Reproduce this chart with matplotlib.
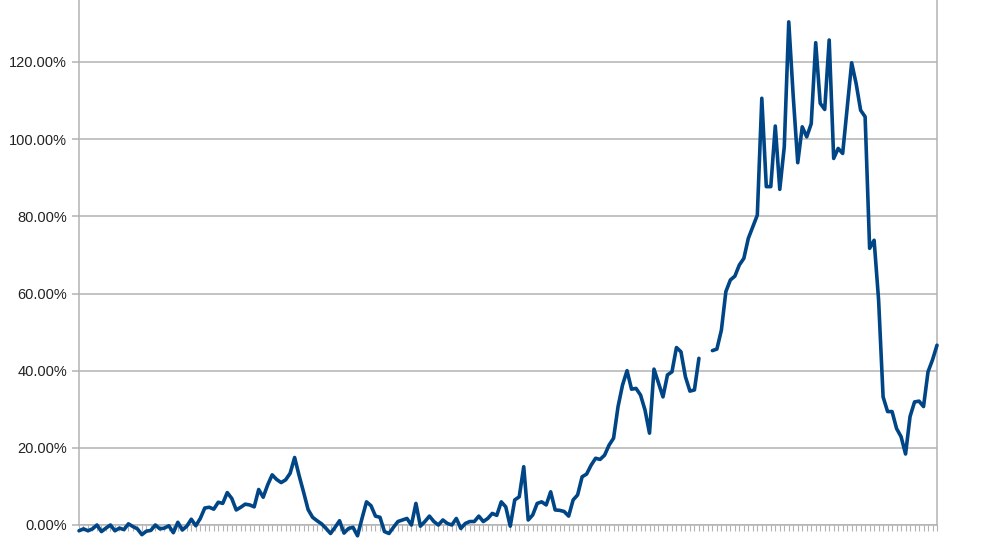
import numpy as np
import matplotlib
matplotlib.use('Agg')
import matplotlib.pyplot as plt
from matplotlib.ticker import FixedLocator, FuncFormatter

# monthly series (%), two missing values leave the gap near the right
pct_a = [-1.5, -1.0, -1.5, -1.0, 0.0, -1.7, -0.8, 0.0, -1.5, -0.8,
         -1.2, 0.3, -0.4, -1.0, -2.5, -1.6, -1.4, 0.0, -1.0, -0.8,
         -0.2, -2.0, 0.7, -1.3, -0.3, 1.5, -0.2, 1.7, 4.4, 4.6,
         4.1, 5.9, 5.6, 8.4, 6.9, 3.9, 4.6, 5.4, 5.2, 4.7,
         9.2, 7.2, 10.4, 13.0, 11.8, 11.0, 11.7, 13.4, 17.5, 12.8,
         8.5, 4.0, 2.0, 1.1, 0.3, -0.9, -2.2, -0.6, 1.1, -2.1,
         -0.9, -0.6, -2.8, 1.7, 6.0, 5.0, 2.3, 2.0, -1.7, -2.2,
         -0.6, 0.9, 1.3, 1.7, 0.0, 5.6, -0.3, 0.9, 2.3, 0.9,
         0.0, 1.3, 0.4, 0.0, 1.7, -0.9, 0.4, 0.9, 0.9, 2.3,
         0.9, 1.7, 3.0, 2.5, 6.0, 4.7, -0.3, 6.5, 7.3, 15.1]
pct_b = [1.3, 2.6, 5.6, 6.0, 5.2, 8.6, 3.9, 3.8, 3.5, 2.3,
         6.5, 7.8, 12.5, 13.2, 15.5, 17.3, 17.0, 18.1, 20.7, 22.5,
         30.7, 36.3, 40.0, 35.2, 35.4, 33.7, 29.8, 23.8, 40.4, 36.8,
         33.2, 38.9, 39.7, 46.0, 44.9, 38.4, 34.7, 35.0, 43.2, None,
         None, 45.2, 45.6, 50.5, 60.5, 63.5, 64.5, 67.4, 69.1, 74.3,
         77.3, 80.3, 110.6, 87.7, 87.7, 103.4, 87.0, 98.0, 130.4, 111.0,
         93.9, 103.2, 100.6, 104.0, 125.0, 109.3, 107.7, 125.7, 95.0, 97.6,
         96.3, 108.0, 119.8, 114.4, 107.5, 105.8, 71.7, 73.8, 58.3, 33.2,
         29.4, 29.4, 25.0, 22.9, 18.4, 28.1, 31.9, 32.1, 30.7, 39.7,
         42.8, 46.6]
values = np.array([np.nan if v is None else v for v in pct_a + pct_b], dtype=float)
ytick_vals = [0, 20, 40, 60, 80, 100, 120]

W, H = 1001, 538
fig = plt.figure(figsize=(W / 100, H / 100), dpi=100)
x0, x1, y0 = 79, 937, 525
ax = fig.add_axes([x0 / W, (H - y0) / H, (x1 - x0) / W, y0 / H])

grid_c = '#b3b3b3'
idx = np.arange(len(values))
ax.plot(idx, values, color='#004586', lw=2.6, solid_joinstyle='round',
        solid_capstyle='round', clip_on=False, zorder=3)

ax.set_xlim(0, len(values) - 1)
ax.set_ylim(0, y0 / ((y0 - 62) / 120.0))

ax.yaxis.set_major_locator(FixedLocator(ytick_vals))
ax.yaxis.set_major_formatter(FuncFormatter(lambda v, p: '%.2f%%' % v))
ax.xaxis.set_major_locator(FixedLocator(idx))
ax.set_xticklabels([])
ax.grid(axis='y', color=grid_c, lw=1.1)
ax.set_axisbelow(True)

for s in ['top']:
    ax.spines[s].set_visible(False)
for s in ['left', 'right', 'bottom']:
    ax.spines[s].set_color(grid_c)
    ax.spines[s].set_linewidth(1.1)

ax.tick_params(axis='y', length=5, width=1.1, color=grid_c, pad=3.5,
               labelsize=10.5, labelcolor='#222222')
ax.tick_params(axis='x', length=4.5, width=0.8, color=grid_c)
for lab in ax.get_yticklabels():
    lab.set_family('Liberation Sans')

fig.savefig('out.png', dpi=100)
